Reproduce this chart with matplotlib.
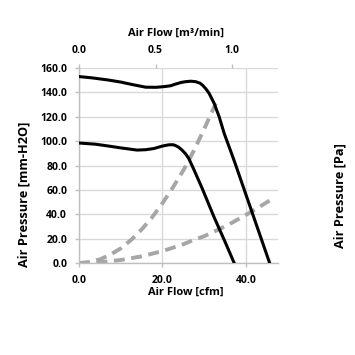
import matplotlib
matplotlib.use("Agg")
import matplotlib.pyplot as plt

# ---- data ----
hi_flow = [0.0, 3.0, 7.0, 10.0, 13.0, 16.0, 18.5, 20.5, 22.0, 23.1, 24.5, 25.5, 26.8, 28.0, 29.0, 29.6, 30.4, 31.2, 32.4, 33.6, 34.8, 36.4, 37.4, 41.5, 45.7]
hi_pres = [153.0, 152.0, 150.2, 148.5, 146.3, 144.3, 144.2, 144.8, 145.5, 146.8, 148.2, 148.8, 149.2, 148.8, 147.6, 146.0, 143.0, 139.2, 131.0, 120.0, 106.4, 91.5, 82.0, 41.5, 0.0]

lo_flow = [0.0, 4.0, 7.1, 10.0, 13.9, 16.0, 18.0, 20.0, 21.5, 22.5, 23.1, 23.9, 24.7, 25.5, 26.3, 27.5, 29.5, 32.4, 35.0, 37.2]
lo_pres = [98.5, 97.5, 96.0, 94.5, 92.7, 93.0, 94.0, 96.0, 97.0, 97.1, 96.5, 95.0, 92.7, 89.8, 85.9, 77.0, 61.5, 37.5, 17.5, 0.0]

sys1_flow = [0.0, 2.5, 5.0, 7.5, 10.0, 12.5, 15.0, 17.5, 20.0, 22.5, 25.0, 27.5, 30.0, 32.8]
sys1_pres = [0.0, 0.8, 3.0, 6.9, 12.0, 19.0, 27.5, 37.4, 49.0, 62.0, 76.0, 92.0, 110.0, 131.0]

sys2_flow = [0.0, 5.0, 10.0, 15.0, 20.0, 25.0, 27.5, 30.0, 33.2, 36.0, 40.0, 43.0, 46.0]
sys2_pres = [0.0, 0.6, 2.5, 5.5, 9.8, 15.4, 19.0, 22.0, 27.1, 31.8, 39.5, 45.5, 52.0]

y_ticks = [0, 20, 40, 60, 80, 100, 120, 140, 160]
x_ticks = [0, 20, 40]
top_ticks = [0.0, 0.5, 1.0]

FONT = "Open Sans"
fig = plt.figure(figsize=(3.55, 3.55), dpi=100)
ax = fig.add_axes([0.2225, 0.259, 0.5606, 0.5493])

grid_c = "#D9D9D9"
ax.set_xlim(0, 47.7)
ax.set_ylim(0, 160)
ax.set_xticks(x_ticks)
ax.set_yticks(y_ticks)
ax.set_xticklabels([f"{v:.1f}" for v in x_ticks], fontsize=7.5, fontfamily=FONT, fontweight="bold")
ax.set_yticklabels([f"{v:.1f}" for v in y_ticks], fontsize=7.5, fontfamily=FONT, fontweight="bold")
ax.grid(True, color=grid_c, linewidth=1.0)
ax.set_axisbelow(True)
for s in ["top", "right"]:
    ax.spines[s].set_visible(False)
for s in ["left", "bottom"]:
    ax.spines[s].set_color("#BFBFBF")
    ax.spines[s].set_linewidth(1.0)
ax.tick_params(axis="both", colors="#BFBFBF", labelcolor="black", length=3, width=1.0, pad=5.5)

ax.plot(sys1_flow, sys1_pres, color="#A6A6A6", lw=2.8, dashes=(2.8, 1.7), zorder=2)
ax.plot(sys2_flow, sys2_pres, color="#A6A6A6", lw=2.8, dashes=(2.8, 1.7), zorder=2)
ax.plot(hi_flow, hi_pres, color="black", lw=2.2, zorder=3, solid_joinstyle="round")
ax.plot(lo_flow, lo_pres, color="black", lw=2.2, zorder=3, solid_joinstyle="round")

ax2 = ax.twiny()
ax2.set_xlim(0, 1.3)
ax2.set_xticks(top_ticks)
ax2.set_xticklabels([f"{v:.1f}" for v in top_ticks], fontsize=7.5, fontfamily=FONT, fontweight="bold")
for s in ["left", "right", "bottom", "top"]:
    ax2.spines[s].set_visible(False)
ax2.tick_params(axis="x", colors="#BFBFBF", labelcolor="black", length=3, width=1.0, pad=5.5)

W = 355.0
def ft(x, y, s, size=8, **kw):
    kw.setdefault("ha", "center")
    kw.setdefault("va", "center")
    fig.text(x / W, 1 - y / W, s, fontsize=size,
             fontfamily=FONT, fontweight="bold", **kw)

ft(176, 33, "Air Flow [m³/min]")
ft(186, 292, "Air Flow [cfm]")
ft(24, 267, "Air Pressure [mm-H2O]", size=9.2, rotation=90, va="bottom")
ft(340, 248, "Air Pressure [Pa]", size=9.2, rotation=90, va="bottom")

fig.savefig("out.png", dpi=100)
